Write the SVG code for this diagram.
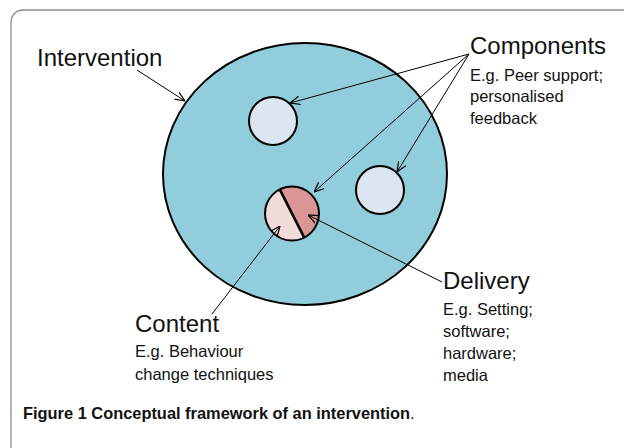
<svg xmlns="http://www.w3.org/2000/svg" width="624" height="448" viewBox="0 0 624 448">
<defs>
<marker id="arr" viewBox="0 0 10 10" refX="10" refY="5" markerWidth="10" markerHeight="10" markerUnits="userSpaceOnUse" orient="auto">
<path d="M0,0.8 L10,5 L0,9.2" fill="none" stroke="#000" stroke-width="1.2"/>
</marker>
</defs>
<style>
.lbl{font-family:"Liberation Sans",Arial,sans-serif;font-size:24px;fill:#111}
.sub{font-family:"Liberation Sans",Arial,sans-serif;font-size:16.5px;fill:#111}
.cap{font-family:"Liberation Sans",Arial,sans-serif;font-size:16.4px;font-weight:bold;fill:#111}
.con{fill:none;stroke:#000;stroke-width:1;marker-end:url(#arr)}
.sc{fill:#dce6f2;stroke:#000;stroke-width:2}
</style>
<rect x="11" y="10" width="660" height="460" rx="12" fill="#fff" stroke="#8c8c8c" stroke-width="1.3"/>
<g id="intervention">
<ellipse cx="305" cy="174" rx="142" ry="131" fill="#92cddc" stroke="#000" stroke-width="2"/>
<text class="lbl" x="37" y="66" font-size="25">Intervention</text>
</g>
<g id="component1"><circle class="sc" cx="273" cy="121" r="24"/></g>
<g id="component2"><circle class="sc" cx="380" cy="190" r="24"/></g>
<g id="split">
<path d="M279.74,189.44 A27,27 0 0 0 304.26,237.56 Z" fill="#f2dcdb"/>
<path d="M279.74,189.44 A27,27 0 0 1 304.26,237.56 Z" fill="#d99694"/>
<circle cx="292" cy="213.5" r="27" fill="none" stroke="#000" stroke-width="2"/>
<line x1="279.74" y1="189.44" x2="304.26" y2="237.56" stroke="#000" stroke-width="2.6"/>
</g>
<g id="components">
<text class="lbl" x="470" y="54">Components</text>
<text class="sub" x="470" y="81">E.g. Peer support;</text>
<text class="sub" x="470" y="102">personalised</text>
<text class="sub" x="470" y="124">feedback</text>
</g>
<g id="delivery">
<text class="lbl" x="443" y="289">Delivery</text>
<text class="sub" x="443" y="315">E.g. Setting;</text>
<text class="sub" x="443" y="337">software;</text>
<text class="sub" x="443" y="359">hardware;</text>
<text class="sub" x="443" y="381">media</text>
</g>
<g id="content">
<text class="lbl" x="135" y="332">Content</text>
<text class="sub" x="135" y="357" font-size="16">E.g. Behaviour</text>
<text class="sub" x="135" y="380" font-size="15.5">change techniques</text>
</g>
<g id="connectors">
<line class="con" x1="137" y1="70" x2="185" y2="101"/>
<line class="con" x1="469" y1="54" x2="290" y2="103"/>
<line class="con" x1="469" y1="54" x2="314" y2="192"/>
<line class="con" x1="469" y1="54" x2="397" y2="172"/>
<line class="con" x1="442" y1="282" x2="308" y2="215"/>
<line class="con" x1="212" y1="314" x2="280" y2="226"/>
</g>
<g id="caption">
<text class="cap" x="23" y="419">Figure 1 Conceptual framework of an intervention<tspan font-weight="normal">.</tspan></text>
</g>
</svg>
